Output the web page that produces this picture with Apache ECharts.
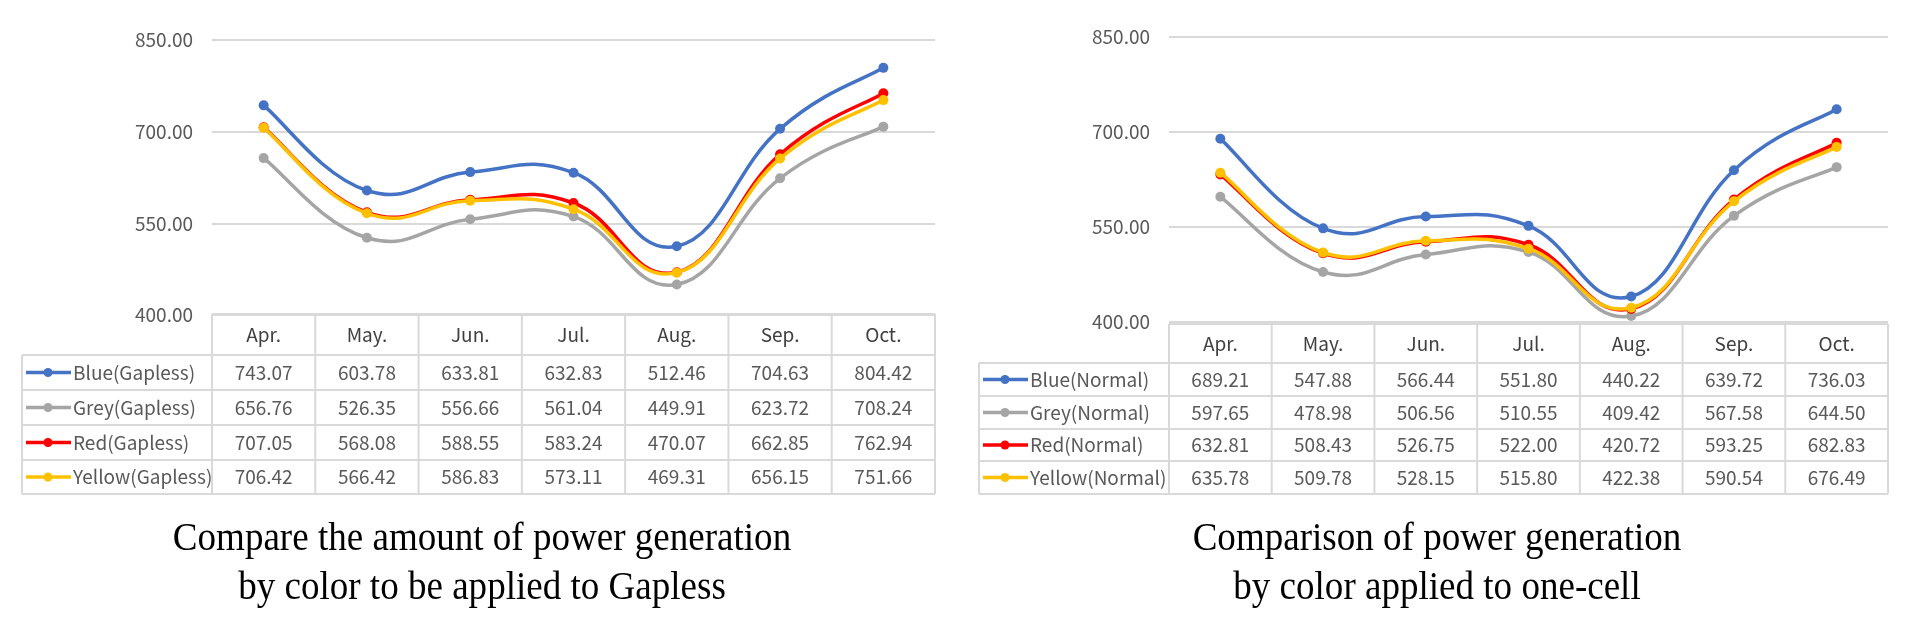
<!DOCTYPE html>
<html><head><meta charset="utf-8">
<script src="https://cdn.jsdelivr.net/npm/echarts@6/dist/echarts.min.js"></script>
<style>html,body{margin:0;padding:0;background:#fff}#c{width:1911px;height:624px}</style>
</head><body><div id="c"></div>
<script>
// ---- data ----
const months = ['Apr.', 'May.', 'Jun.', 'Jul.', 'Aug.', 'Sep.', 'Oct.'];
const yTicks = [400, 550, 700, 850];

const gaplessNames = ['Blue(Gapless)', 'Grey(Gapless)', 'Red(Gapless)', 'Yellow(Gapless)'];
const blueGapless   = [743.07, 603.78, 633.81, 632.83, 512.46, 704.63, 804.42];
const greyGapless   = [656.76, 526.35, 556.66, 561.04, 449.91, 623.72, 708.24];
const redGapless    = [707.05, 568.08, 588.55, 583.24, 470.07, 662.85, 762.94];
const yellowGapless = [706.42, 566.42, 586.83, 573.11, 469.31, 656.15, 751.66];

const normalNames = ['Blue(Normal)', 'Grey(Normal)', 'Red(Normal)', 'Yellow(Normal)'];
const blueNormal   = [689.21, 547.88, 566.44, 551.80, 440.22, 639.72, 736.03];
const greyNormal   = [597.65, 478.98, 506.56, 510.55, 409.42, 567.58, 644.50];
const redNormal    = [632.81, 508.43, 526.75, 522.00, 420.72, 593.25, 682.83];
const yellowNormal = [635.78, 509.78, 528.15, 515.80, 422.38, 590.54, 676.49];

const captionLeft = ['Compare the amount of power generation', 'by color to be applied to Gapless'];
const captionRight = ['Comparison of power generation', 'by color applied to one-cell'];

// ---- style ----
const colors = ['#4472C4', '#A5A5A5', '#FF0000', '#FFC000'];
const gridColor = '#D9D9D9';
const textColor = '#595959';
const tFont = '"Noto Sans CJK KR", "Noto Sans", sans-serif';
const TENSION = 0.22; // Excel-like spline smoothing

const panels = [
  { names: gaplessNames, data: [blueGapless, greyGapless, redGapless, yellowGapless],
    grid: { left: 212, right: 1911 - 935, top: 40, height: 275 },
    tab: { x0: 22, xc: 212, x1: 935, top: 314, hb: 355, rows: [390, 425, 460, 494] },
    cap: captionLeft, capX: 482 },
  { names: normalNames, data: [blueNormal, greyNormal, redNormal, yellowNormal],
    grid: { left: 1169, right: 1911 - 1888, top: 37, height: 285 },
    tab: { x0: 979, xc: 1169, x1: 1888, top: 324, hb: 363, rows: [396, 429, 461, 494] },
    cap: captionRight, capX: 1437 }
];

const grids = [], xAxes = [], yAxes = [], series = [], graphics = [];
const fmt = v => v.toFixed(2);

panels.forEach((p, pi) => {
  grids.push(Object.assign({ containLabel: false }, p.grid));
  const t = p.tab;
  const headerMid = (t.top + t.hb) / 2;
  const axisBottom = p.grid.top + p.grid.height;
  xAxes.push({
    type: 'category', gridIndex: pi, data: months, boundaryGap: true,
    axisLine: { show: false }, axisTick: { show: false },
    axisLabel: { color: '#404040', fontFamily: tFont, fontSize: 19, lineHeight: 20,
      margin: headerMid - axisBottom - 10 }
  });
  yAxes.push({
    type: 'value', gridIndex: pi, min: yTicks[0], max: yTicks[yTicks.length - 1], interval: 150,
    axisLine: { show: false }, axisTick: { show: false },
    axisLabel: { color: textColor, fontFamily: tFont, fontSize: 19, margin: 19,
      formatter: v => v.toFixed(2) },
    splitLine: { lineStyle: { color: gridColor, width: 2 } }
  });
  p.data.forEach((arr, si) => {
    // smooth curve through the points (segment by segment, via the axis scales)
    series.push({
      type: 'custom', name: p.names[si], xAxisIndex: pi, yAxisIndex: pi,
      coordinateSystem: 'cartesian2d', silent: true, z: 2 + si, clip: false,
      data: arr.slice(0, -1).map((v, i) => [i, v]),
      renderItem: (params, api) => {
        const i = params.dataIndex;
        const pt = k => api.coord([Math.max(0, Math.min(arr.length - 1, k)), arr[Math.max(0, Math.min(arr.length - 1, k))]]);
        const p0 = pt(i - 1), p1 = pt(i), p2 = pt(i + 1), p3 = pt(i + 2);
        return {
          type: 'bezierCurve',
          shape: {
            x1: p1[0], y1: p1[1], x2: p2[0], y2: p2[1],
            cpx1: p1[0] + (p2[0] - p0[0]) * TENSION, cpy1: p1[1] + (p2[1] - p0[1]) * TENSION,
            cpx2: p2[0] - (p3[0] - p1[0]) * TENSION, cpy2: p2[1] - (p3[1] - p1[1]) * TENSION
          },
          style: { stroke: colors[si], lineWidth: 3.5, fill: null, lineCap: 'round' }
        };
      }
    });
    // markers
    series.push({
      type: 'line', name: p.names[si], xAxisIndex: pi, yAxisIndex: pi, data: arr,
      symbol: 'circle', symbolSize: 10,
      lineStyle: { color: colors[si], width: 0, opacity: 0 },
      itemStyle: { color: colors[si] }, z: 2 + si
    });
  });

  // table borders
  const ln = (x1, y1, x2, y2) => graphics.push({ type: 'line', silent: true,
    shape: { x1, y1, x2, y2 }, style: { stroke: gridColor, lineWidth: 2 } });
  const bottom = t.rows[t.rows.length - 1];
  ln(t.xc, t.top, t.x1, t.top);
  ln(t.x0, t.hb, t.x1, t.hb);
  t.rows.forEach(y => ln(t.x0, y, t.x1, y));
  ln(t.x0, t.hb, t.x0, bottom);
  const cw = (t.x1 - t.xc) / months.length;
  for (let i = 0; i <= months.length; i++) ln(t.xc + i * cw, t.top, t.xc + i * cw, bottom);

  // rows
  p.data.forEach((arr, si) => {
    const yTop = si === 0 ? t.hb : t.rows[si - 1];
    const yMid = (yTop + t.rows[si]) / 2;
    graphics.push({ type: 'line', silent: true,
      shape: { x1: t.x0 + 4, y1: yMid, x2: t.x0 + 49, y2: yMid },
      style: { stroke: colors[si], lineWidth: 3.5 } });
    graphics.push({ type: 'circle', silent: true,
      shape: { cx: t.x0 + 26, cy: yMid, r: 4.5 }, style: { fill: colors[si] } });
    graphics.push({ type: 'text', silent: true, x: t.x0 + 51, y: yMid,
      style: { text: p.names[si], fill: textColor, font: '19px ' + tFont,
        textAlign: 'left', textVerticalAlign: 'middle' } });
    arr.forEach((v, ci) => {
      graphics.push({ type: 'text', silent: true, x: t.xc + (ci + 0.5) * cw, y: yMid,
        style: { text: fmt(v), fill: textColor, font: '19px ' + tFont,
          textAlign: 'center', textVerticalAlign: 'middle' } });
    });
  });

  // caption
  p.cap.forEach((line, li) => {
    graphics.push({ type: 'text', silent: true, x: p.capX, y: 540 + li * 49, scaleX: 0.95,
      style: { text: line, fill: '#000', font: '39px "Liberation Serif", "Times New Roman", serif',
        textAlign: 'center', textVerticalAlign: 'middle' } });
  });
});

const chart = echarts.init(document.getElementById('c'), null, { renderer: 'canvas' });
chart.setOption({
  animation: false,
  backgroundColor: '#fff',
  grid: grids, xAxis: xAxes, yAxis: yAxes, series: series,
  graphic: graphics
});
</script></body></html>
